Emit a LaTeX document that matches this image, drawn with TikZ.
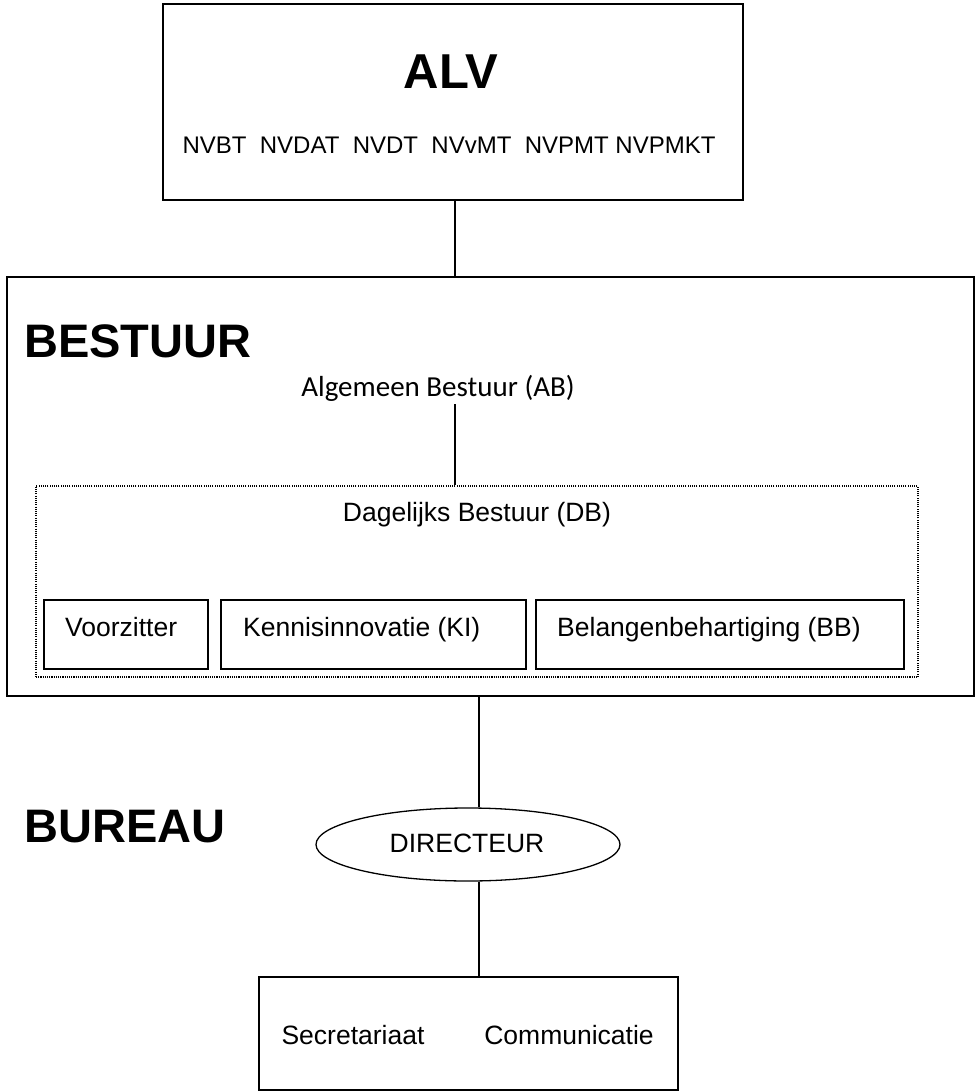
\documentclass[tikz,border=0pt]{standalone}
\usepackage{fontspec}
\setmainfont{Liberation Sans}
\newfontfamily\carlito{Carlito}
\usetikzlibrary{shapes.geometric}
\begin{document}
\begin{tikzpicture}[x=1pt,y=-1pt,
  box/.style={draw,line width=1.6pt,minimum width=#1,inner sep=0pt},
  txt/.style={inner sep=0pt,font=\fontsize{26.5}{31}\selectfont},
  conn/.style={line width=1.3pt}]
\useasboundingbox (0,0) rectangle (975,1091);
% ALV
\node[box=580pt,minimum height=196pt] (alv) at (453,102) {};
\node[inner sep=0pt,anchor=base,font=\fontsize{49}{56}\selectfont\bfseries] (alvt) at (451,89) {ALV};
\node[txt,anchor=base,font=\fontsize{24}{28}\selectfont] (nv) at (449,154) {NVBT\ \ NVDAT\ \ NVDT\ \ NVvMT\ \ NVPMT NVPMKT};
% BESTUUR
\node[box=967pt,minimum height=419pt] (bestuur) at (490.5,486.5) {};
\node[inner sep=0pt,anchor=base west,font=\fontsize{47}{56}\selectfont\bfseries] (bt) at (24,357) {BESTUUR};
\node[inner sep=0pt,anchor=base,font=\carlito\fontsize{29}{34}\selectfont] (ab) at (438,396) {Algemeen Bestuur (AB)};
\node[draw,line width=1.1pt,dash pattern=on 1.1pt off 1.1pt,minimum width=882pt,minimum height=191pt,inner sep=0pt] (db) at (477,581.5) {};
\node[txt,anchor=base] (dbt) at (477,521) {Dagelijks Bestuur (DB)};
\node[box=164pt,minimum height=69pt] (vz) at (126,634.5) {};
\node[txt,anchor=base west] (vzt) at (65,636) {Voorzitter};
\node[box=305pt,minimum height=69pt] (ki) at (373.5,634.5) {};
\node[txt,anchor=base west] (kit) at (243,636) {Kennisinnovatie (KI)};
\node[box=368pt,minimum height=69pt] (bb) at (720,634.5) {};
\node[txt,anchor=base west] (bbt) at (557,636) {Belangenbehartiging (BB)};
% BUREAU
\node[inner sep=0pt,anchor=base west,font=\fontsize{47}{56}\selectfont\bfseries] (bu) at (24,842) {BUREAU};
\node[draw,ellipse,line width=1.3pt,minimum width=304pt,minimum height=73pt,inner sep=0pt] (dir) at (468,844.5) {};
\node[txt,anchor=base] (dirt) at (467,852) {DIRECTEUR};
\node[box=419pt,minimum height=113pt] (sec) at (468.5,1033.5) {};
\node[txt,anchor=base] (sect) at (353,1044) {Secretariaat};
\node[txt,anchor=base] (comt) at (569,1044) {Communicatie};
% connectors
\coordinate (c1) at (455,404);
\draw[conn] ([xshift=2pt]alv.south) -- ([xshift=2pt]alv.south |- bestuur.north);
\draw[conn] (c1) -- (c1 |- db.north);
\draw[conn] ([xshift=11pt]dir.north |- bestuur.south) -- ([xshift=11pt]dir.north);
\draw[conn] ([xshift=11pt]dir.south) -- ([xshift=11pt]dir.south |- sec.north);
\end{tikzpicture}
\end{document}
